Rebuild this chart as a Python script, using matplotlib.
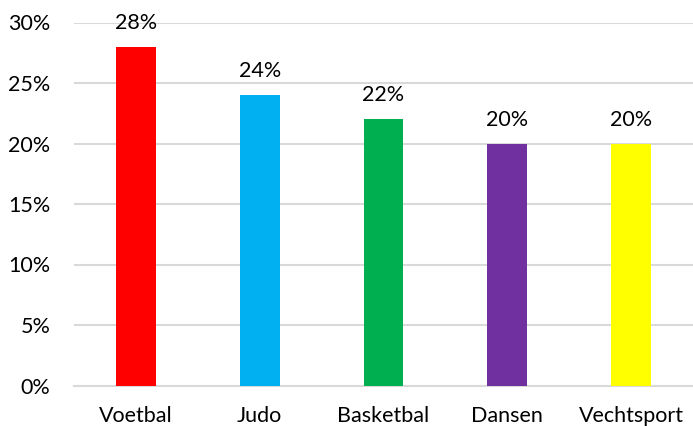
import matplotlib
matplotlib.use("Agg")
import matplotlib.pyplot as plt
from matplotlib.ticker import FuncFormatter

categories = ["Voetbal", "Judo", "Basketbal", "Dansen", "Vechtsport"]
values = [28, 24, 22, 20, 20]
colors = ["#FF0000", "#00B0F0", "#00B050", "#7030A0", "#FFFF00"]
yticks = [0, 5, 10, 15, 20, 25, 30]

plt.rcParams['font.family'] = ['Lato', 'DejaVu Sans']
FS = 15.5

fig = plt.figure(figsize=(6.93, 4.26), dpi=100)
ax = fig.add_axes([74/693, 40.5/426, 619/693, 363/426])

x = range(len(categories))
ax.bar(x, values, width=0.32, color=colors, zorder=3)
for xi, v in zip(x, values):
    ax.annotate(f"{v}%", (xi, v), xytext=(0, 10), textcoords="offset points",
                ha="center", va="bottom", fontsize=FS, color="#000000")

ax.set_xlim(-0.5, len(categories) - 0.5)
ax.set_ylim(0, 30)
ax.set_yticks(yticks)
ax.yaxis.set_major_formatter(FuncFormatter(lambda v, p: f"{int(v)}%"))
ax.set_xticks(list(x))
ax.set_xticklabels(categories)
ax.tick_params(axis="both", length=0, labelsize=FS, colors="#000000")
ax.tick_params(axis="y", pad=17)
ax.tick_params(axis="x", pad=14.5)
ax.grid(axis="y", color="#D9D9D9", linewidth=1.5, zorder=0)
for s in ["top", "right", "left"]:
    ax.spines[s].set_visible(False)
ax.spines["bottom"].set_color("#D9D9D9")
ax.spines["bottom"].set_linewidth(1.5)

fig.savefig("out.png", dpi=100)
